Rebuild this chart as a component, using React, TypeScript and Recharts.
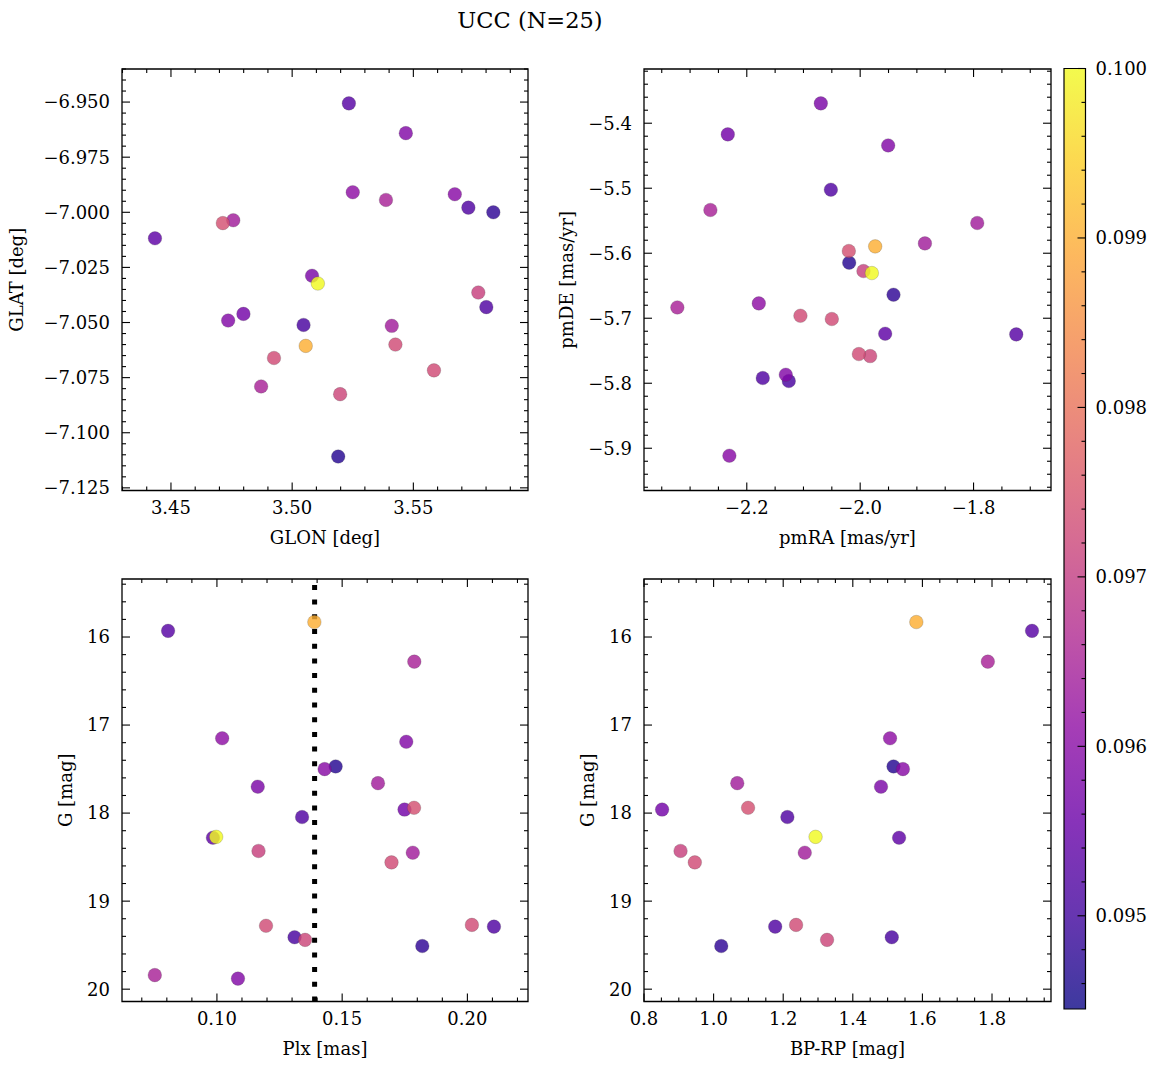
import React from "react";
import {
  ScatterChart,
  Scatter,
  XAxis,
  YAxis,
  ReferenceLine,
  ReferenceArea,
  Label,
  Text,
} from "recharts";

const FONT = "'DejaVu Serif', serif";
const W = 1161;
const H = 1068;

// one entry per star, same order in every list
const glon = [3.5056, 3.5234, 3.5387, 3.525, 3.5469, 3.519, 3.5671, 3.5411, 3.5082, 3.4714, 3.4799, 3.5727, 3.5106, 3.4434, 3.5768, 3.4757, 3.5426, 3.4925, 3.5585, 3.5801, 3.5047, 3.5198, 3.583, 3.4872, 3.4736];
const glat = [-7.0606, -6.9506, -6.9944, -6.9909, -6.9641, -7.1108, -6.9918, -7.0515, -7.0288, -7.0049, -7.0461, -6.9979, -7.0323, -7.0118, -7.0364, -7.0036, -7.06, -7.0661, -7.0717, -7.043, -7.0511, -7.0825, -7.0, -7.079, -7.0491];
const pmra = [-1.9735, -1.7247, -2.2642, -2.1788, -2.1312, -2.0194, -2.2307, -1.7935, -2.0694, -2.02, -2.2335, -2.0517, -1.9794, -1.9559, -1.9942, -1.8858, -2.1054, -2.05, -2.0023, -2.1718, -2.1259, -1.9824, -1.9412, -2.3225, -1.9506];
const pmde = [-5.5895, -5.7249, -5.5335, -5.6772, -5.7869, -5.6146, -5.9115, -5.5535, -5.3695, -5.5966, -5.4172, -5.5023, -5.6305, -5.7238, -5.6274, -5.5849, -5.6962, -5.7012, -5.7551, -5.792, -5.7966, -5.7582, -5.6638, -5.6834, -5.4342];
const plx = [0.1389, 0.0805, 0.1788, 0.1021, 0.1756, 0.1474, 0.143, 0.1643, 0.1163, 0.1787, 0.1749, 0.134, 0.0997, 0.0984, 0.1166, 0.1782, 0.1697, 0.2018, 0.1196, 0.2106, 0.131, 0.1352, 0.182, 0.0752, 0.1084];
const gmag = [15.83, 15.93, 16.28, 17.15, 17.19, 17.47, 17.5, 17.66, 17.7, 17.94, 17.96, 18.045, 18.27, 18.28, 18.43, 18.45, 18.56, 19.27, 19.28, 19.29, 19.41, 19.44, 19.51, 19.84, 19.88];
const bprp = [1.5825, 1.915, 1.788, 1.507, null, 1.517, 1.544, 1.068, 1.481, 1.099, 0.852, 1.212, 1.293, 1.533, 0.905, 1.262, 0.946, 1.237, null, 1.177, 1.512, 1.326, 1.022, null, null];
const prob = [0.099, 0.0953, 0.0965, 0.0961, 0.0959, 0.0947, 0.096, 0.0964, 0.0958, 0.0974, 0.0957, 0.0952, 0.1, 0.0954, 0.0971, 0.0964, 0.0973, 0.0973, 0.0973, 0.0952, 0.0951, 0.0972, 0.0948, 0.0965, 0.0959];

const plxLine = 0.139;
const probRange = [0.09445, 0.1];

const glonMajor = [3.45, 3.5, 3.55];
const glatMajor = [-6.95, -6.975, -7.0, -7.025, -7.05, -7.075, -7.1, -7.125];
const pmraMajor = [-2.2, -2.0, -1.8];
const pmdeMajor = [-5.4, -5.5, -5.6, -5.7, -5.8, -5.9];
const plxMajor = [0.1, 0.15, 0.2];
const gMajor = [16, 17, 18, 19, 20];
const bprpMajor = [0.8, 1.0, 1.2, 1.4, 1.6, 1.8];
const probMajor = [0.095, 0.096, 0.097, 0.098, 0.099, 0.1];

const PLASMA = ["#0d0887", "#41049d", "#6a00a8", "#8f0da4", "#b12a90", "#cc4778", "#e16462", "#f2844b", "#fca636", "#fcce25", "#f0f921"];

function hex(c: string) {
  return [1, 3, 5].map((i) => parseInt(c.slice(i, i + 2), 16));
}

function plasma(t: number) {
  const s = Math.max(0, Math.min(1, t)) * (PLASMA.length - 1);
  const i = Math.min(Math.floor(s), PLASMA.length - 2);
  const f = s - i;
  const a = hex(PLASMA[i]);
  const b = hex(PLASMA[i + 1]);
  const c = a.map((v, k) => Math.round(v + (b[k] - v) * f));
  return `rgb(${c[0]},${c[1]},${c[2]})`;
}

const stars = prob
  .map((p, i) => ({
    glon: glon[i],
    glat: glat[i],
    pmra: pmra[i],
    pmde: pmde[i],
    plx: plx[i],
    gmag: gmag[i],
    bprp: bprp[i],
    prob: p,
    cbx: 0.5,
    color: plasma((p - probRange[0]) / (probRange[1] - probRange[0])),
  }))
  .sort((a, b) => a.prob - b.prob);

function steps(lo: number, hi: number, step: number) {
  const out: number[] = [];
  for (let k = Math.ceil(lo / step - 1e-6); k <= Math.floor(hi / step + 1e-6); k++) {
    out.push(+(k * step).toFixed(6));
  }
  return out;
}

const minus = (s: string) => s.replace("-", "\u2212");

const textStyle = { fontFamily: FONT, fontSize: 18, fill: "#000" };

const Dot = (props: any) => (
  <circle
    cx={props.cx}
    cy={props.cy}
    r={6.8}
    fill={props.payload.color}
    fillOpacity={0.82}
    stroke="#444"
    strokeOpacity={0.45}
    strokeWidth={0.5}
  />
);

type Box = { left: number; right: number; top: number; bottom: number };

interface PanelProps {
  data: any[];
  xKey: string;
  yKey: string;
  box: Box;
  xDomain: number[];
  yDomain: number[];
  xMajor: number[];
  yMajor: number[];
  xStep: number;
  yStep: number;
  xDec: number;
  yDec: number;
  xLabel: string;
  yLabel: string;
  yLabelX: number;
  reversed?: boolean;
  vline?: number;
}

function Panel(p: PanelProps) {
  const pw = p.box.right - p.box.left;
  const ph = p.box.bottom - p.box.top;
  const isMajor = (list: number[], v: number) => list.some((m) => Math.abs(m - v) < 1e-7);

  const xTick = (t: any) => {
    const v = t.payload.value;
    const major = isMajor(p.xMajor, v);
    const len = major ? 8 : 4;
    return (
      <g>
        <line x1={t.x} x2={t.x} y1={t.y} y2={t.y - len} stroke="#000" strokeWidth={1.1} />
        <line x1={t.x} x2={t.x} y1={t.y - ph} y2={t.y - ph + len} stroke="#000" strokeWidth={1.1} />
        {major && (
          <Text x={t.x} y={t.y + 11} textAnchor="middle" verticalAnchor="start" style={textStyle}>
            {minus(v.toFixed(p.xDec))}
          </Text>
        )}
      </g>
    );
  };

  const yTick = (t: any) => {
    const v = t.payload.value;
    const major = isMajor(p.yMajor, v);
    const len = major ? 8 : 4;
    return (
      <g>
        <line x1={t.x} x2={t.x + len} y1={t.y} y2={t.y} stroke="#000" strokeWidth={1.1} />
        <line x1={t.x + pw} x2={t.x + pw - len} y1={t.y} y2={t.y} stroke="#000" strokeWidth={1.1} />
        {major && (
          <Text x={t.x - 12} y={t.y} textAnchor="end" verticalAnchor="middle" style={textStyle}>
            {minus(v.toFixed(p.yDec))}
          </Text>
        )}
      </g>
    );
  };

  return (
    <div style={{ position: "absolute", left: 0, top: 0 }}>
      <ScatterChart
        width={W}
        height={H}
        margin={{ left: p.box.left - 1, right: W - p.box.right, top: p.box.top, bottom: H - p.box.bottom - 1 }}
      >
        <XAxis
          type="number"
          dataKey={p.xKey}
          domain={p.xDomain}
          allowDataOverflow
          ticks={steps(p.xDomain[0], p.xDomain[1], p.xStep)}
          interval={0}
          height={1}
          tickSize={0}
          tickMargin={0}
          axisLine={false}
          tickLine={false}
          tick={xTick}
        >
          <Label value={p.xLabel} position="bottom" offset={40} style={textStyle} />
        </XAxis>
        <YAxis
          type="number"
          dataKey={p.yKey}
          domain={p.yDomain}
          allowDataOverflow
          reversed={p.reversed}
          ticks={steps(p.yDomain[0], p.yDomain[1], p.yStep)}
          interval={0}
          width={1}
          tickSize={0}
          tickMargin={0}
          axisLine={false}
          tickLine={false}
          tick={yTick}
        >
          <Label
            value={p.yLabel}
            angle={-90}
            position="insideLeft"
            offset={p.yLabelX - p.box.left + 1}
            style={{ ...textStyle, textAnchor: "middle" }}
          />
        </YAxis>
        <ReferenceArea
          x1={p.xDomain[0]}
          x2={p.xDomain[1]}
          y1={p.yDomain[0]}
          y2={p.yDomain[1]}
          fill="none"
          stroke="#000"
          strokeWidth={1.3}
          fillOpacity={0}
        />
        <Scatter data={p.data} shape={Dot} isAnimationActive={false} />
        {p.vline !== undefined && (
          <ReferenceLine x={p.vline} stroke="#000" strokeWidth={5} strokeDasharray="5 9.7" />
        )}
      </ScatterChart>
    </div>
  );
}

function ColorBar() {
  const box = { left: 1064, right: 1085.5, top: 68.5, bottom: 1009 };
  const tick = (t: any) => {
    const v = t.payload.value;
    const major = probMajor.some((m) => Math.abs(m - v) < 1e-9);
    const len = major ? 8 : 4;
    return (
      <g>
        <line x1={t.x} x2={t.x - len} y1={t.y} y2={t.y} stroke="#000" strokeWidth={1.1} />
        {major && (
          <Text x={t.x + 10} y={t.y} textAnchor="start" verticalAnchor="middle" style={textStyle}>
            {v.toFixed(3)}
          </Text>
        )}
      </g>
    );
  };
  return (
    <div style={{ position: "absolute", left: 0, top: 0 }}>
      <ScatterChart
        width={W}
        height={H}
        margin={{ left: box.left, right: W - box.right - 1, top: box.top, bottom: H - box.bottom }}
      >
        <defs>
          <linearGradient id="plasmaBar" x1="0" y1="1" x2="0" y2="0">
            {PLASMA.map((c, i) => (
              <stop key={i} offset={`${(i / (PLASMA.length - 1)) * 100}%`} stopColor={c} stopOpacity={0.8} />
            ))}
          </linearGradient>
        </defs>
        <XAxis type="number" dataKey="cbx" domain={[0, 1]} allowDataOverflow hide />
        <YAxis
          type="number"
          dataKey="prob"
          orientation="right"
          domain={probRange}
          allowDataOverflow
          ticks={steps(probRange[0], probRange[1], 0.0002)}
          interval={0}
          width={1}
          tickSize={0}
          tickMargin={0}
          axisLine={false}
          tickLine={false}
          tick={tick}
        />
        <ReferenceArea
          x1={0}
          x2={1}
          y1={probRange[0]}
          y2={probRange[1]}
          fill="url(#plasmaBar)"
          fillOpacity={1}
          stroke="#000"
          strokeWidth={1.2}
        />
        <Scatter data={stars} shape={() => <g />} isAnimationActive={false} />
      </ScatterChart>
    </div>
  );
}

export default function App() {
  const top = { top: 69, bottom: 490.5 };
  const low = { top: 579, bottom: 1001.5 };
  const leftX = { left: 122, right: 528 };
  const rightX = { left: 644, right: 1051 };
  const cmdStars = stars.filter((s) => s.bprp !== null);

  return (
    <div
      style={{
        position: "absolute",
        left: 0,
        top: 0,
        width: W,
        height: H,
        background: "#fff",
        fontFamily: FONT,
      }}
    >
      <div
        style={{
          position: "absolute",
          left: 380,
          width: 300,
          top: 7,
          textAlign: "center",
          fontSize: 22.5,
          fontFamily: FONT,
        }}
      >
        UCC (N=25)
      </div>
      <Panel
        data={stars}
        xKey="glon"
        yKey="glat"
        box={{ ...leftX, ...top }}
        xDomain={[3.4298, 3.5973]}
        yDomain={[-7.1262, -6.935]}
        xMajor={glonMajor}
        yMajor={glatMajor}
        xStep={0.01}
        yStep={0.005}
        xDec={2}
        yDec={3}
        xLabel="GLON [deg]"
        yLabel="GLAT [deg]"
        yLabelX={17}
      />
      <Panel
        data={stars}
        xKey="pmra"
        yKey="pmde"
        box={{ ...rightX, ...top }}
        xDomain={[-2.3813, -1.6634]}
        yDomain={[-5.965, -5.3166]}
        xMajor={pmraMajor}
        yMajor={pmdeMajor}
        xStep={0.05}
        yStep={0.02}
        xDec={1}
        yDec={1}
        xLabel="pmRA [mas/yr]"
        yLabel="pmDE [mas/yr]"
        yLabelX={567}
      />
      <Panel
        data={stars}
        xKey="plx"
        yKey="gmag"
        box={{ ...leftX, ...low }}
        xDomain={[0.0621, 0.2242]}
        yDomain={[15.341, 20.14]}
        xMajor={plxMajor}
        yMajor={gMajor}
        xStep={0.01}
        yStep={0.2}
        xDec={2}
        yDec={0}
        xLabel="Plx [mas]"
        yLabel="G [mag]"
        yLabelX={66}
        reversed
        vline={plxLine}
      />
      <Panel
        data={cmdStars}
        xKey="bprp"
        yKey="gmag"
        box={{ ...rightX, ...low }}
        xDomain={[0.8, 1.9695]}
        yDomain={[15.341, 20.14]}
        xMajor={bprpMajor}
        yMajor={gMajor}
        xStep={0.05}
        yStep={0.2}
        xDec={1}
        yDec={0}
        xLabel="BP-RP [mag]"
        yLabel="G [mag]"
        yLabelX={588}
        reversed
      />
      <ColorBar />
    </div>
  );
}
